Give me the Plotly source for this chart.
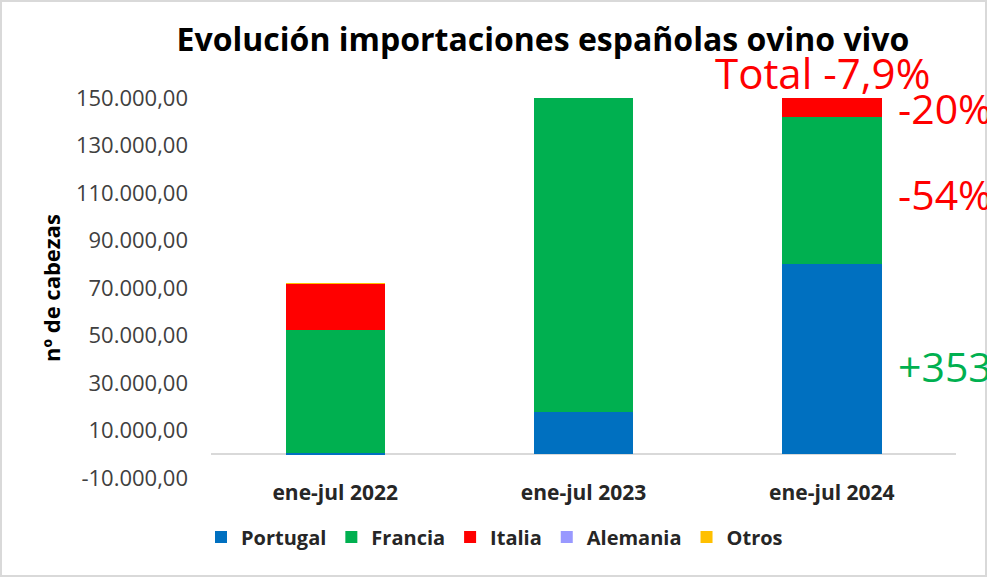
import plotly.graph_objects as go

# Importaciones españolas de ovino vivo (nº de cabezas)
periodos = ["ene-jul 2022", "ene-jul 2023", "ene-jul 2024"]
portugal = [500, 17700, 80300]
francia = [51900, 134300, 61800]
italia = [19300, 17400, 13900]
alemania = [0, 0, 0]
otros = [400, 300, 200]

series = [
    ("Portugal", portugal, "#0070C0"),
    ("Francia", francia, "#00B050"),
    ("Italia", italia, "#FF0000"),
    ("Alemania", alemania, "#9999FF"),
    ("Otros", otros, "#FFC000"),
]

tick_vals = [-10000, 10000, 30000, 50000, 70000, 90000, 110000, 130000, 150000]
tick_text = ["-10.000,00", "10.000,00", "30.000,00", "50.000,00", "70.000,00",
             "90.000,00", "110.000,00", "130.000,00", "150.000,00"]

# etiquetas de variación 2024 vs 2023
var_total = "Total -7,9%"
var_labels = [("-20%", 146000, "#FF0000"), ("-54%", 109700, "#FF0000"), ("+353%", 37300, "#00B050")]

W, H = 987, 577
ML, MR, MT, MB = 211, 31, 98, 99
FONT = "Open Sans"

fig = go.Figure()
for name, vals, color in series:
    fig.add_trace(go.Bar(x=periodos, y=vals, name=name, marker=dict(color=color, line=dict(width=0))))

pw = W - ML - MR
ph = H - MT - MB


def px_x(px):
    return (px - ML) / pw


def px_y(py):
    return (H - MB - py) / ph


annotations = [
    dict(text=var_total, xref="paper", yref="paper", x=px_x(822), y=px_y(72),
         xanchor="center", yanchor="middle", showarrow=False,
         font=dict(family=FONT, size=42, color="#FF0000")),
    dict(text="nº de cabezas", xref="paper", yref="paper", x=px_x(51), y=0.5,
         textangle=-90, xanchor="center", yanchor="middle", showarrow=False,
         font=dict(family=FONT, size=22, color="#000000", weight="bold")),
]
for txt, yv, col in var_labels:
    annotations.append(dict(text=txt, xref="paper", yref="y", x=px_x(896), y=yv,
                            xanchor="left", yanchor="middle", showarrow=False,
                            font=dict(family=FONT, size=41, color=col)))

fig.update_layout(
    width=W, height=H,
    barmode="stack",
    bargap=0.6,
    paper_bgcolor="white",
    plot_bgcolor="white",
    margin=dict(l=ML, r=MR, t=MT, b=MB),
    title=dict(text="<b>Evolución importaciones españolas ovino vivo</b>", x=543 / W, xanchor="center",
               y=1 - 40 / H, yanchor="middle",
               font=dict(family=FONT, size=32, color="#000000")),
    xaxis=dict(showgrid=False, showline=False, ticks="",
               tickfont=dict(family=FONT, size=21, color="#262626", weight="bold")),
    yaxis=dict(range=[-10000, 150000], tickvals=tick_vals, ticktext=tick_text,
               showgrid=False, showline=False, ticks="",
               zeroline=True, zerolinecolor="#D9D9D9", zerolinewidth=2,
               ticklabelstandoff=22,
               tickfont=dict(family=FONT, size=22, color="#404040")),
    legend=dict(orientation="h", traceorder="normal", x=px_x(201), xanchor="left",
                y=px_y(537), yanchor="middle",
                font=dict(family=FONT, size=20, color="#262626", weight="bold"),
                itemwidth=30, tracegroupgap=0),
    annotations=annotations,
    shapes=[dict(type="rect", xref="paper", yref="paper",
                 x0=px_x(1), x1=px_x(W - 1), y0=px_y(H - 1), y1=px_y(1),
                 line=dict(color="#D9D9D9", width=2), layer="below")],
    showlegend=True,
)

fig.write_html("out.html", config={"displayModeBar": False},
               post_script="document.body.style.margin='0';")
